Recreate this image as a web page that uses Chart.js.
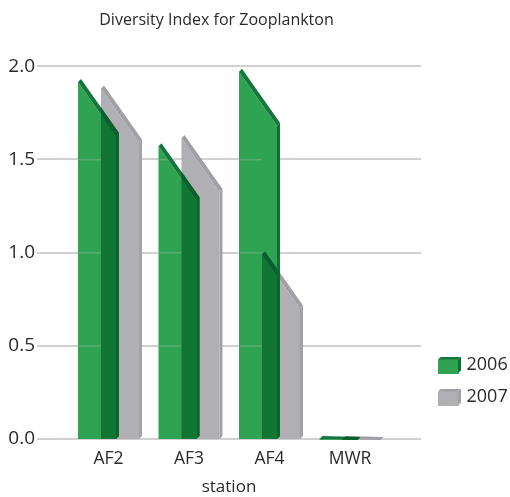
<!DOCTYPE html>
<html><head><meta charset="utf-8">
<style>html,body{margin:0;padding:0;background:#fff}canvas{display:block}</style>
<script src="https://cdn.jsdelivr.net/npm/chart.js@4"></script>
</head><body>
<canvas id="c" width="510" height="497"></canvas>
<script>
const categories = ['AF2', 'AF3', 'AF4', 'MWR'];
const values2006 = [1.915, 1.57, 1.97, 0];
const values2007 = [1.88, 1.615, 0.99, 0];
const yTicks = [0, 0.5, 1, 1.5, 2];

const FONT = '"Open Sans"';
const INK = '#2a2a2a';
const GREEN = {front:'#2fa351', top:'#15773c', side:'#0f6e35'};
const GRAY  = {front:'#b0b0b4', top:'#a0a0a4', side:'#a2a2a6'};
const OVER  = {front:'#117536', top:'#0a5f2c', side:'#0a662e'};
const DRAWN_W = 38, DEPTH = 3, SLANT = 54;

function path(ctx, pts){
  ctx.beginPath();
  pts.forEach((p,i)=> i ? ctx.lineTo(p[0],p[1]) : ctx.moveTo(p[0],p[1]));
  ctx.closePath();
}
function poly(ctx, pts, fill){ ctx.fillStyle = fill; path(ctx, pts); ctx.fill(); }
function shape(b){
  const l = b.x - DRAWN_W/2, r = b.x + DRAWN_W/2, t = b.y, base = b.base + 1;
  const tr = Math.min(t + SLANT, base);
  return {
    front:[[l,base],[l,t],[r,tr],[r,base]],
    top:[[l,t],[l+DEPTH,t-DEPTH],[r+DEPTH,tr-DEPTH],[r,tr]],
    side:[[r,tr],[r+DEPTH,tr-DEPTH],[r+DEPTH,base-DEPTH],[r,base]],
    all:[[l,base],[l,t],[l+DEPTH,t-DEPTH],[r+DEPTH,tr-DEPTH],[r+DEPTH,base-DEPTH],[r,base]]
  };
}
function paint(ctx, s, c){
  poly(ctx, s.front, c.front); poly(ctx, s.top, c.top); poly(ctx, s.side, c.side);
}
function swatch(c){
  const cv = document.createElement('canvas'); cv.width = 23; cv.height = 17;
  const x = cv.getContext('2d');
  paint(x, {front:[[0,3],[20,3],[20,17],[0,17]], top:[[0,3],[3,0],[23,0],[20,3]], side:[[20,3],[23,0],[23,14],[20,17]]}, c);
  return cv;
}
// Chart.js paints the last dataset first, so 2007 is down before 2006 arrives.
const slantedBars = {
  id:'slantedBars',
  beforeDatasetDraw(chart, args){
    const ctx = chart.ctx, c = chart.data.datasets[args.index].shade, yScale = chart.scales.y;
    args.meta.data.forEach((b,i)=>{
      const s = shape(b);
      paint(ctx, s, c);
      if(args.index === 0){
        ctx.save(); path(ctx, s.front); ctx.clip();
        ctx.fillStyle = 'rgba(205,205,205,0.25)';
        yScale.ticks.forEach(t=>{
          if(t.value > 0) ctx.fillRect(b.x - DRAWN_W/2, yScale.getPixelForValue(t.value)-0.5, b.width, 1.5);
        });
        ctx.restore();
        const g = shape(chart.getDatasetMeta(1).data[i]);
        ctx.save(); path(ctx, g.all); ctx.clip(); paint(ctx, s, OVER); ctx.restore();
        ctx.save(); path(ctx, s.front); ctx.clip(); poly(ctx, g.top, OVER.top); ctx.restore();
      }
    });
    return false;
  }
};
const placeBoxes = {
  id:'placeBoxes',
  afterLayout(chart){
    const g = chart.legend;
    g.left = 427.5; g.right = 510; g.top = 342; g.bottom = 420;
    chart.titleBlock.left += 6; chart.titleBlock.right += 6;
  }
};

new Chart(document.getElementById('c'), {
  type:'bar',
  plugins:[slantedBars, placeBoxes],
  data:{
    labels: categories.map((_,i)=>i),
    datasets:[
      {label:'2006', data:values2006, backgroundColor:GREEN.front, shade:GREEN, categoryPercentage:46/80.5, barPercentage:1},
      {label:'2007', data:values2007, backgroundColor:GRAY.front, shade:GRAY, categoryPercentage:46/80.5, barPercentage:1}
    ]
  },
  options:{
    responsive:false, animation:false,
    layout:{padding:{left:0,right:89,top:0,bottom:0}},
    plugins:{
      title:{display:true, text:'Diversity Index for Zooplankton', color:INK,
        font:{family:FONT,size:16,weight:'normal'}, padding:{top:11,bottom:36}, align:'center', fullSize:true},
      legend:{position:'chartArea', align:'start',
        labels:{usePointStyle:true, pointStyleWidth:16, color:INK, padding:14,
          font:{family:FONT,size:18},
          generateLabels(chart){
            return chart.data.datasets.map((d,i)=>({text:d.label, datasetIndex:i, pointStyle:swatch(d.shade), fontColor:INK, lineWidth:0, strokeStyle:'transparent', fillStyle:d.shade.front}));
          }}},
      tooltip:{enabled:false}
    },
    scales:{
      x:{type:'linear', min:-0.888, max:3.882, offset:false,
        afterBuildTicks(s){ s.ticks = categories.map((_,i)=>({value:i})); },
        afterFit(s){ s.height = 58; },
        grid:{display:false}, border:{display:false},
        ticks:{callback:v=>categories[v], color:INK, font:{family:FONT,size:17.5}, padding:2, maxRotation:0, autoSkip:false},
        title:{display:true, text:'station', color:INK, font:{family:FONT,size:17}, padding:{top:0,bottom:0}}
      },
      y:{min:0, max:2,
        afterBuildTicks(s){ s.ticks = yTicks.map(v=>({value:v})); },
        afterFit(s){ s.width = 37; },
        grid:{color:'#d0d0d0', lineWidth:2, drawTicks:false}, border:{display:false},
        ticks:{callback:v=>v.toFixed(1), color:INK, font:{family:FONT,size:19}, padding:2}
      }
    }
  }
});
</script>
</body></html>
